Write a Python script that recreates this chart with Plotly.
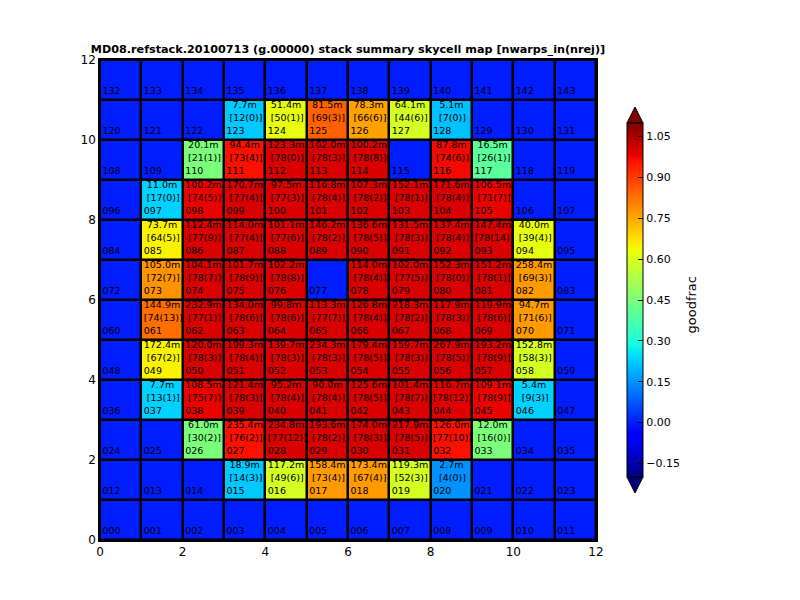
import numpy as np
import plotly.graph_objects as go

# =========================
# DATA (skycells with stack output)
# =========================
title = "MD08.refstack.20100713 (g.00000) stack summary skycell map [nwarps_in(nrej)]"
ncols = 12
nrows = 12

cell_id = [15, 16, 17, 18, 19, 20,
           26, 27, 28, 29, 30, 31, 32, 33,
           37, 38, 39, 40, 41, 42, 43, 44, 45, 46,
           49, 50, 51, 52, 53, 54, 55, 56, 57, 58,
           61, 62, 63, 64, 65, 66, 67, 68, 69, 70,
           73, 74, 75, 76, 78, 79, 80, 81, 82,
           85, 86, 87, 88, 89, 90, 91, 92, 93, 94,
           97, 98, 99, 100, 101, 102, 103, 104, 105,
           110, 111, 112, 113, 114, 116, 117,
           123, 124, 125, 126, 127, 128]

mem_mb = [18.9, 117.2, 158.4, 173.4, 119.3, 2.7,
          61.0, 235.4, 234.8, 193.6, 174.0, 217.9, 126.0, 12.0,
          7.7, 108.5, 121.4, 95.2, 90.0, 125.6, 101.4, 116.7, 109.1, 5.4,
          172.4, 120.0, 199.3, 139.7, 234.3, 179.4, 159.7, 267.9, 193.2, 152.8,
          144.9, 232.9, 134.0, 99.8, 113.3, 126.8, 218.3, 117.9, 119.9, 94.7,
          105.0, 104.1, 101.7, 102.2, 114.0, 102.0, 152.3, 151.2, 258.4,
          73.7, 112.4, 114.0, 101.1, 146.2, 136.6, 131.5, 137.4, 147.4, 40.0,
          11.0, 100.2, 170.7, 97.5, 116.8, 107.3, 152.1, 171.6, 106.5,
          20.1, 94.4, 123.3, 102.0, 100.2, 87.8, 16.5,
          7.7, 51.4, 81.5, 78.3, 64.1, 5.1]

nwarps = [14, 49, 73, 67, 52, 4,
          30, 76, 77, 78, 78, 78, 77, 16,
          13, 75, 78, 78, 78, 78, 78, 78, 78, 9,
          67, 78, 78, 78, 78, 78, 78, 78, 78, 58,
          74, 77, 78, 78, 77, 78, 78, 78, 78, 71,
          72, 78, 78, 78, 78, 77, 78, 78, 69,
          64, 77, 77, 77, 78, 78, 78, 78, 78, 39,
          17, 74, 77, 77, 78, 78, 78, 78, 71,
          21, 73, 78, 78, 78, 74, 26,
          12, 50, 69, 66, 44, 7]

nrej = [3, 6, 4, 4, 3, 0,
        2, 2, 12, 2, 3, 5, 10, 0,
        1, 7, 3, 4, 4, 5, 7, 12, 9, 3,
        2, 3, 4, 3, 3, 5, 3, 5, 9, 3,
        13, 1, 6, 6, 7, 4, 2, 3, 6, 6,
        7, 7, 9, 8, 4, 5, 0, 1, 3,
        5, 9, 4, 6, 2, 5, 3, 4, 14, 4,
        0, 5, 4, 3, 4, 2, 1, 4, 7,
        1, 4, 0, 3, 8, 6, 1,
        0, 1, 3, 6, 6, 0]

goodfrac = [0.22, 0.59, 0.77, 0.77, 0.59, 0.15,
            0.45, 0.96, 1.0, 1.0, 1.0, 1.0, 0.96, 0.45,
            0.23, 0.98, 1.0, 1.0, 1.0, 1.0, 1.0, 0.99, 0.98, 0.23,
            0.65, 1.0, 1.0, 1.0, 1.0, 1.0, 1.0, 1.0, 1.0, 0.59,
            0.83, 1.0, 1.0, 1.0, 1.0, 1.0, 1.0, 1.0, 1.0, 0.77,
            0.78, 1.0, 1.0, 1.0, 1.0, 1.0, 1.0, 1.0, 0.77,
            0.65, 1.0, 1.0, 1.0, 1.0, 1.0, 1.0, 1.0, 1.0, 0.62,
            0.23, 0.98, 1.0, 1.0, 1.0, 1.0, 1.0, 1.0, 0.98,
            0.45, 0.96, 1.0, 1.0, 1.0, 0.97, 0.40,
            0.22, 0.62, 0.85, 0.76, 0.59, 0.21]

empty_value = 0.0
vmin, vmax = -0.2, 1.1
cbar_ticks = [-0.15, 0.0, 0.15, 0.30, 0.45, 0.60, 0.75, 0.90, 1.05]

# =========================
# GRID
# =========================
z = np.full((nrows, ncols), empty_value)
for c, g in zip(cell_id, goodfrac):
    z[c // ncols, c % ncols] = g


def jet(f):
    r = np.interp(f, [0, 0.35, 0.66, 0.89, 1], [0, 0, 1, 1, 0.5])
    g = np.interp(f, [0, 0.125, 0.375, 0.64, 0.91, 1], [0, 0, 1, 1, 0, 0])
    b = np.interp(f, [0, 0.11, 0.34, 0.65, 1], [0.5, 1, 1, 0, 0])
    return "rgb(%d,%d,%d)" % (r * 255, g * 255, b * 255)


jet_scale = [[f, jet(f)] for f in np.linspace(0, 1, 101)]

font = "DejaVu Sans"
# page body adds an 8px offset, so the figure is 8px smaller each way
W, H = 792, 592
OFF = 8

fig = go.Figure()

fig.add_trace(go.Heatmap(
    z=z,
    x=np.arange(ncols) + 0.5,
    y=np.arange(nrows) + 0.5,
    colorscale=jet_scale,
    zmin=vmin, zmax=vmax,
    xgap=2.5, ygap=2.5,
    hoverinfo="skip",
    colorbar=dict(
        x=1.0625, xanchor="left", xpad=0,
        y=0.5, yanchor="middle", ypad=0,
        len=0.7375, thickness=16,
        outlinecolor="black", outlinewidth=1,
        tickvals=cbar_ticks,
        ticktext=[("%.2f" % t).replace("-", "\u2212") for t in cbar_ticks],
        ticks="inside", ticklen=5, tickcolor="black",
        tickfont=dict(family=font, size=11, color="black"),
    ),
))

# cell numbers, bottom-left of each cell
all_ids = np.arange(ncols * nrows)
fig.add_trace(go.Scatter(
    x=all_ids % ncols + 0.06,
    y=all_ids // ncols + 0.22,
    mode="text",
    text=["%03d" % i for i in all_ids],
    textposition="middle right",
    textfont=dict(family=font, size=9.5, color="black"),
    hoverinfo="skip", showlegend=False, cliponaxis=False,
))

ids = np.array(cell_id)
fig.add_trace(go.Scatter(
    x=ids % ncols + 0.5,
    y=ids // ncols + 0.85,
    mode="text",
    text=["%.1fm" % m for m in mem_mb],
    textposition="middle center",
    textfont=dict(family=font, size=9.5, color="black"),
    hoverinfo="skip", showlegend=False, cliponaxis=False,
))
fig.add_trace(go.Scatter(
    x=ids % ncols + 0.53,
    y=ids // ncols + 0.53,
    mode="text",
    text=["[%d(%d)]" % (n, r) for n, r in zip(nwarps, nrej)],
    textposition="middle center",
    textfont=dict(family=font, size=9.5, color="black"),
    hoverinfo="skip", showlegend=False, cliponaxis=False,
))

# colorbar extend arrows (paper coords)
x0, x1 = (627 - 100) / 496, (643 - 100) / 496
xm = (x0 + x1) / 2
top_base, top_tip = (540 - 123) / 480, (540 - 107) / 480
bot_base, bot_tip = (540 - 477) / 480, (540 - 493) / 480
fig.add_shape(type="path", xref="paper", yref="paper",
              path=f"M {x0} {top_base} L {xm} {top_tip} L {x1} {top_base} Z",
              fillcolor=jet(1.0), line=dict(color="black", width=1))
fig.add_shape(type="path", xref="paper", yref="paper",
              path=f"M {x0} {bot_base} L {xm} {bot_tip} L {x1} {bot_base} Z",
              fillcolor=jet(0.0), line=dict(color="black", width=1))

fig.add_annotation(text="goodfrac", xref="paper", yref="paper",
                   x=(700 - 100) / 496, y=(540 - 305) / 480,
                   textangle=-90, showarrow=False,
                   font=dict(family=font, size=13, color="black"))

axis_style = dict(
    range=[0, 12], tickvals=list(range(0, 13, 2)),
    showgrid=False, zeroline=False,
    showline=True, mirror=True, linecolor="black", linewidth=1.5,
    ticks="", tickfont=dict(family=font, size=12, color="black"),
)
fig.update_xaxes(**axis_style)
fig.update_yaxes(**axis_style)

fig.update_layout(
    width=W, height=H,
    margin=dict(l=100 - OFF, r=W - (596 - OFF), t=60 - OFF, b=H - (540 - OFF)),
    paper_bgcolor="white", plot_bgcolor="black",
    title=dict(text="<b>" + title + "</b>", x=0.5, xref="paper",
               y=1 - (49 - OFF) / H, yref="container", yanchor="middle",
               font=dict(family=font, size=11.2, color="black")),
    showlegend=False,
)

fig.write_html("out.html")
